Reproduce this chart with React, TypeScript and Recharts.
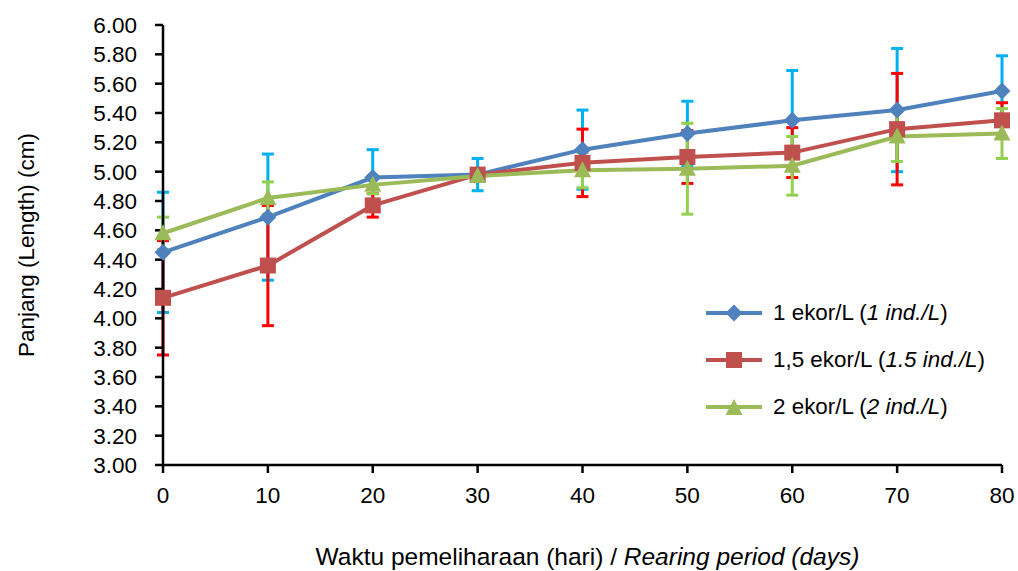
import { LineChart, Line, XAxis, YAxis, ErrorBar, Label } from "recharts";

const days = [0, 10, 20, 30, 40, 50, 60, 70, 80];
const len1 = [4.45, 4.69, 4.96, 4.98, 5.15, 5.26, 5.35, 5.42, 5.55];
const sd1 = [0.41, 0.43, 0.19, 0.11, 0.27, 0.22, 0.34, 0.42, 0.24];
const len15 = [4.14, 4.36, 4.77, 4.98, 5.06, 5.1, 5.13, 5.29, 5.35];
const sd15 = [0.39, 0.41, 0.08, 0.02, 0.23, 0.18, 0.17, 0.38, 0.12];
const len2 = [4.58, 4.82, 4.91, 4.97, 5.01, 5.02, 5.04, 5.24, 5.26];
const sd2 = [0.11, 0.11, 0.06, 0.03, 0.12, 0.31, 0.2, 0.17, 0.17];
const yTicks = [3.0, 3.2, 3.4, 3.6, 3.8, 4.0, 4.2, 4.4, 4.6, 4.8, 5.0, 5.2, 5.4, 5.6, 5.8, 6.0];

const FONT = '"Liberation Sans", Arial, sans-serif';
const BLUE = "#4F81BD";
const RED = "#C0504D";
const GREEN = "#9BBB59";

const data = days.map((d, i) => ({
  day: d,
  a: len1[i],
  aErr: sd1[i],
  b: len15[i],
  bErr: sd15[i],
  c: len2[i],
  cErr: sd2[i],
}));

function Diamond({ cx, cy, color }: { cx: number; cy: number; color: string }) {
  const r = 8.5;
  return <path d={`M${cx},${cy - r}L${cx + r},${cy}L${cx},${cy + r}L${cx - r},${cy}Z`} fill={color} />;
}

function Square({ cx, cy, color }: { cx: number; cy: number; color: string }) {
  return <rect x={cx - 8} y={cy - 8} width={16} height={16} fill={color} />;
}

function Triangle({ cx, cy, color }: { cx: number; cy: number; color: string }) {
  return <path d={`M${cx},${cy - 9}L${cx + 8.5},${cy + 7}L${cx - 8.5},${cy + 7}Z`} fill={color} />;
}

const dotA = (p: any) => <Diamond key={p.index} cx={p.cx} cy={p.cy} color={BLUE} />;
const dotB = (p: any) => <Square key={p.index} cx={p.cx} cy={p.cy} color={RED} />;
const dotC = (p: any) => <Triangle key={p.index} cx={p.cx} cy={p.cy} color={GREEN} />;

function XTitle(props: any) {
  const vb = props.viewBox;
  return (
    <text x={vb.x + vb.width / 2 + 5} y={vb.y + 100} textAnchor="middle" fontSize={24.5} fill="#000" fontFamily={FONT}>
      Waktu pemeliharaan (hari) / <tspan fontStyle="italic">Rearing period (days)</tspan>
    </text>
  );
}

function YTitle(props: any) {
  const vb = props.viewBox;
  const y = vb.y + vb.height / 2;
  return (
    <text
      x={26}
      y={y}
      transform={`rotate(-90, 26, ${y})`}
      textAnchor="middle"
      dominantBaseline="central"
      fontSize={22.5}
      fill="#000"
      fontFamily={FONT}
    >
      Panjang (Length) (cm)
    </text>
  );
}

const legendItems = [
  { color: BLUE, shape: "diamond", main: "1 ekor/L (", it: "1 ind./L", end: ")" },
  { color: RED, shape: "square", main: "1,5 ekor/L (", it: "1.5 ind./L", end: ")" },
  { color: GREEN, shape: "triangle", main: "2 ekor/L (", it: "2 ind./L", end: ")" },
];

function LegendBox() {
  return (
    <div style={{ position: "absolute", left: 706, top: 289, fontFamily: FONT, fontSize: 22.4, color: "#000" }}>
      {legendItems.map((it) => (
        <div key={it.main} style={{ display: "flex", alignItems: "center", height: 47 }}>
          <svg width={56} height={20} style={{ marginRight: 11 }}>
            <line x1={0} y1={10} x2={56} y2={10} stroke={it.color} strokeWidth={4} />
            {it.shape === "diamond" && <Diamond cx={28} cy={10} color={it.color} />}
            {it.shape === "square" && <Square cx={28} cy={10} color={it.color} />}
            {it.shape === "triangle" && <Triangle cx={28} cy={11} color={it.color} />}
          </svg>
          <span>
            {it.main}
            <i>{it.it}</i>
            {it.end}
          </span>
        </div>
      ))}
    </div>
  );
}

export default function App() {
  return (
    <div style={{ position: "absolute", left: 0, top: 0, width: 1018, height: 571, background: "#fff" }}>
      <LineChart width={1018} height={571} data={data} margin={{ top: 25, right: 16, bottom: 0, left: 0 }}>
        <XAxis
          dataKey="day"
          type="number"
          domain={[0, 80]}
          ticks={days}
          height={106}
          tickSize={8}
          tickMargin={14}
          axisLine={{ stroke: "#000", strokeWidth: 2.5 }}
          tickLine={{ stroke: "#000", strokeWidth: 2.5 }}
          tick={{ fill: "#000", fontSize: 22.5, fontFamily: FONT }}
        >
          <Label content={<XTitle />} />
        </XAxis>
        <YAxis
          type="number"
          domain={[3, 6]}
          ticks={yTicks}
          width={163}
          interval={0}
          tickSize={8}
          tickMargin={18}
          tickFormatter={(v: number) => v.toFixed(2)}
          axisLine={{ stroke: "#000", strokeWidth: 2.5 }}
          tickLine={{ stroke: "#000", strokeWidth: 2.5 }}
          tick={{ fill: "#000", fontSize: 22.5, fontFamily: FONT }}
        >
          <Label content={<YTitle />} />
        </YAxis>
        <Line dataKey="a" stroke={BLUE} strokeWidth={4} dot={dotA} isAnimationActive={false}>
          <ErrorBar dataKey="aErr" direction="y" width={6} stroke="#00B0F0" strokeWidth={3} />
        </Line>
        <Line dataKey="b" stroke={RED} strokeWidth={4} dot={dotB} isAnimationActive={false}>
          <ErrorBar dataKey="bErr" direction="y" width={6} stroke="#FF0000" strokeWidth={3} />
        </Line>
        <Line dataKey="c" stroke={GREEN} strokeWidth={4} dot={dotC} isAnimationActive={false}>
          <ErrorBar dataKey="cErr" direction="y" width={6} stroke="#92D050" strokeWidth={3} />
        </Line>
      </LineChart>
      <LegendBox />
    </div>
  );
}
